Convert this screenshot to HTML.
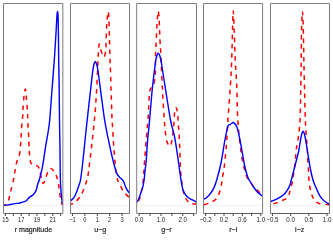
<!DOCTYPE html><html><head><meta charset="utf-8"><style>html,body{margin:0;padding:0;background:#fff;}svg{display:block;will-change:transform;font-family:"Liberation Sans",sans-serif;}</style></head><body>
<svg width="333" height="241" viewBox="0 0 333 241">
<rect width="333" height="241" fill="#fff"/>
<line x1="3.50" y1="205.3" x2="62.85" y2="205.3" stroke="#e8e8e8" stroke-width="0.6"/>
<clipPath id="c1"><rect x="3.50" y="3.50" width="59.35" height="210.00"/></clipPath>
<g clip-path="url(#c1)" fill="none" stroke-linejoin="round">
<path d="M3.80 205.30 C4.17 205.17 5.30 205.05 6.00 204.50 C6.70 203.95 7.50 202.95 8.00 202.00 C8.50 201.05 8.50 200.82 9.00 198.80 C9.50 196.78 10.18 193.37 11.00 189.90 C11.82 186.43 13.23 181.13 13.90 178.00 C14.57 174.87 14.53 173.72 15.00 171.10 C15.47 168.48 15.92 165.25 16.70 162.30 C17.48 159.35 19.03 156.62 19.70 153.40 C20.37 150.18 20.45 146.02 20.70 143.00 C20.95 139.98 21.02 138.30 21.20 135.30 C21.38 132.30 21.55 128.22 21.80 125.00 C22.05 121.78 22.50 118.72 22.70 116.00 C22.90 113.28 22.80 111.82 23.00 108.70 C23.20 105.58 23.62 100.25 23.90 97.30 C24.18 94.35 24.45 92.37 24.70 91.00 C24.95 89.63 25.20 89.02 25.40 89.10 C25.60 89.18 25.75 90.13 25.90 91.50 C26.05 92.87 26.07 94.43 26.30 97.30 C26.53 100.17 27.02 105.28 27.25 108.70 C27.48 112.12 27.56 114.67 27.70 117.80 C27.84 120.93 27.93 124.30 28.10 127.50 C28.27 130.70 28.52 133.25 28.70 137.00 C28.88 140.75 29.00 146.63 29.20 150.00 C29.40 153.37 29.68 155.20 29.90 157.20 C30.12 159.20 30.15 160.82 30.50 162.00 C30.85 163.18 31.50 163.80 32.00 164.30 C32.50 164.80 32.53 164.68 33.50 165.00 C34.47 165.32 36.75 165.20 37.80 166.20 C38.85 167.20 39.13 168.70 39.80 171.00 C40.47 173.30 41.20 177.92 41.80 180.00 C42.40 182.08 42.80 183.67 43.40 183.50 C44.00 183.33 44.67 180.92 45.40 179.00 C46.13 177.08 46.90 173.77 47.80 172.00 C48.70 170.23 49.80 168.57 50.80 168.40 C51.80 168.23 52.80 169.57 53.80 171.00 C54.80 172.43 55.97 174.50 56.80 177.00 C57.63 179.50 58.30 183.17 58.80 186.00 C59.30 188.83 59.37 191.33 59.80 194.00 C60.23 196.67 60.95 200.17 61.40 202.00 C61.85 203.83 62.32 204.50 62.50 205.00" stroke="#ff0000" stroke-width="1.5" stroke-dasharray="4.6 4.6" stroke-dashoffset="1.9"/>
<path d="M3.80 205.40 C4.50 205.32 6.63 205.10 8.00 204.90 C9.37 204.70 10.67 204.45 12.00 204.20 C13.33 203.95 14.83 203.55 16.00 203.40 C17.17 203.25 18.00 203.50 19.00 203.30 C20.00 203.10 20.83 202.58 22.00 202.20 C23.17 201.82 25.02 201.57 26.00 201.00 C26.98 200.43 27.25 199.48 27.90 198.80 C28.55 198.12 29.07 197.53 29.90 196.90 C30.73 196.27 31.90 196.00 32.90 195.00 C33.90 194.00 35.08 192.75 35.90 190.90 C36.72 189.05 37.23 185.72 37.80 183.90 C38.37 182.08 38.80 181.65 39.30 180.00 C39.80 178.35 40.22 176.50 40.80 174.00 C41.38 171.50 42.03 169.37 42.80 165.00 C43.57 160.63 44.53 153.20 45.40 147.80 C46.27 142.40 47.28 137.23 48.00 132.60 C48.72 127.97 49.03 127.10 49.70 120.00 C50.37 112.90 51.23 100.00 52.00 90.00 C52.77 80.00 53.63 69.50 54.30 60.00 C54.97 50.50 55.55 40.50 56.00 33.00 C56.45 25.50 56.75 18.58 57.00 15.00 C57.25 11.42 57.33 11.50 57.50 11.50 C57.67 11.50 57.85 11.42 58.00 15.00 C58.15 18.58 58.28 25.50 58.40 33.00 C58.52 40.50 58.57 50.50 58.70 60.00 C58.83 69.50 59.07 80.00 59.20 90.00 C59.33 100.00 59.37 110.00 59.50 120.00 C59.63 130.00 59.85 140.00 60.00 150.00 C60.15 160.00 60.18 172.50 60.40 180.00 C60.62 187.50 60.93 190.88 61.30 195.00 C61.67 199.12 62.38 203.08 62.60 204.70" stroke="#0000ff" stroke-width="1.42"/>
</g>
<rect x="3.50" y="3.50" width="59.35" height="210.00" fill="none" stroke="#7e7e7e" stroke-width="1" stroke-linejoin="round"/>
<line x1="5.40" y1="213.50" x2="60.70" y2="213.50" stroke="#555" stroke-width="0.9"/>
<line x1="5.40" y1="213.50" x2="5.40" y2="216.00" stroke="#444" stroke-width="1"/>
<line x1="13.30" y1="213.50" x2="13.30" y2="216.00" stroke="#444" stroke-width="1"/>
<line x1="21.20" y1="213.50" x2="21.20" y2="216.00" stroke="#444" stroke-width="1"/>
<line x1="29.10" y1="213.50" x2="29.10" y2="216.00" stroke="#444" stroke-width="1"/>
<line x1="37.00" y1="213.50" x2="37.00" y2="216.00" stroke="#444" stroke-width="1"/>
<line x1="44.90" y1="213.50" x2="44.90" y2="216.00" stroke="#444" stroke-width="1"/>
<line x1="52.80" y1="213.50" x2="52.80" y2="216.00" stroke="#444" stroke-width="1"/>
<line x1="60.70" y1="213.50" x2="60.70" y2="216.00" stroke="#444" stroke-width="1"/>
<text transform="translate(5.40,222.2) scale(0.93,1.14)" font-size="6.2" text-anchor="middle" fill="#222">15</text>
<text transform="translate(21.20,222.2) scale(0.93,1.14)" font-size="6.2" text-anchor="middle" fill="#222">17</text>
<text transform="translate(37.00,222.2) scale(0.93,1.14)" font-size="6.2" text-anchor="middle" fill="#222">19</text>
<text transform="translate(52.80,222.2) scale(0.93,1.14)" font-size="6.2" text-anchor="middle" fill="#222">21</text>
<text transform="translate(33.38,231.8) scale(1,1.08)" font-size="7.1" stroke="#111" stroke-width="0.14" text-anchor="middle" fill="#111">r magnitude</text>
<line x1="70.50" y1="205.3" x2="129.50" y2="205.3" stroke="#e8e8e8" stroke-width="0.6"/>
<clipPath id="c2"><rect x="70.50" y="3.50" width="59.00" height="210.00"/></clipPath>
<g clip-path="url(#c2)" fill="none" stroke-linejoin="round">
<path d="M70.40 204.50 C71.20 204.12 73.57 203.55 75.20 202.20 C76.83 200.85 78.73 198.63 80.20 196.40 C81.67 194.17 82.95 191.32 84.00 188.80 C85.05 186.28 85.87 183.30 86.50 181.30 C87.13 179.30 87.28 179.85 87.80 176.80 C88.32 173.75 88.85 169.10 89.60 163.00 C90.35 156.90 91.50 147.37 92.30 140.20 C93.10 133.03 93.90 125.03 94.40 120.00 C94.90 114.97 95.03 113.33 95.30 110.00 C95.57 106.67 95.78 103.28 96.00 100.00 C96.22 96.72 96.35 94.97 96.60 90.30 C96.85 85.63 97.27 77.05 97.50 72.00 C97.73 66.95 97.85 63.17 98.00 60.00 C98.15 56.83 98.22 55.63 98.40 53.00 C98.58 50.37 98.83 45.20 99.10 44.20 C99.37 43.20 99.65 45.87 100.00 47.00 C100.35 48.13 100.78 49.75 101.20 51.00 C101.62 52.25 102.00 53.50 102.50 54.50 C103.00 55.50 103.73 57.25 104.20 57.00 C104.67 56.75 105.00 54.92 105.30 53.00 C105.60 51.08 105.78 49.68 106.00 45.50 C106.22 41.32 106.37 32.65 106.60 27.90 C106.83 23.15 107.12 19.72 107.40 17.00 C107.68 14.28 108.05 11.10 108.30 11.60 C108.55 12.10 108.73 16.48 108.90 20.00 C109.07 23.52 109.20 29.37 109.30 32.70 C109.40 36.03 109.42 36.78 109.50 40.00 C109.58 43.22 109.70 48.38 109.80 52.00 C109.90 55.62 110.00 58.87 110.10 61.70 C110.20 64.53 110.27 65.12 110.40 69.00 C110.53 72.88 110.75 80.53 110.90 85.00 C111.05 89.47 111.13 90.58 111.30 95.80 C111.47 101.02 111.73 111.77 111.90 116.30 C112.07 120.83 112.12 119.88 112.30 123.00 C112.48 126.12 112.77 131.17 113.00 135.00 C113.23 138.83 113.27 140.50 113.70 146.00 C114.13 151.50 114.95 162.33 115.60 168.00 C116.25 173.67 116.98 177.58 117.60 180.00 C118.22 182.42 118.58 181.03 119.30 182.50 C120.02 183.97 120.83 186.90 121.90 188.80 C122.97 190.70 124.45 192.42 125.70 193.90 C126.95 195.38 128.78 197.07 129.40 197.70" stroke="#ff0000" stroke-width="1.5" stroke-dasharray="4.6 4.6" stroke-dashoffset="1.8"/>
<path d="M70.40 201.00 C70.98 200.45 72.90 199.10 73.90 197.70 C74.90 196.30 75.55 194.72 76.40 192.60 C77.25 190.48 78.32 187.10 79.00 185.00 C79.68 182.90 79.88 183.67 80.50 180.00 C81.12 176.33 81.90 170.05 82.70 163.00 C83.50 155.95 84.55 144.87 85.30 137.70 C86.05 130.53 86.28 128.32 87.20 120.00 C88.12 111.68 89.85 96.13 90.80 87.80 C91.75 79.47 92.33 74.05 92.90 70.00 C93.47 65.95 93.80 64.93 94.20 63.50 C94.60 62.07 94.93 61.40 95.30 61.40 C95.67 61.40 95.97 62.07 96.40 63.50 C96.83 64.93 97.15 65.12 97.90 70.00 C98.65 74.88 99.78 84.47 100.90 92.80 C102.02 101.13 103.42 112.52 104.60 120.00 C105.78 127.48 106.80 131.80 108.00 137.70 C109.20 143.60 110.58 150.18 111.80 155.40 C113.02 160.62 114.43 165.93 115.30 169.00 C116.17 172.07 116.23 172.37 117.00 173.80 C117.77 175.23 118.98 176.57 119.90 177.60 C120.82 178.63 121.85 179.30 122.50 180.00 C123.15 180.70 123.27 180.60 123.80 181.80 C124.33 183.00 125.08 185.75 125.70 187.20 C126.32 188.65 126.83 189.50 127.50 190.50 C128.17 191.50 129.33 192.75 129.70 193.20" stroke="#0000ff" stroke-width="1.42"/>
</g>
<rect x="70.50" y="3.50" width="59.00" height="210.00" fill="none" stroke="#7e7e7e" stroke-width="1" stroke-linejoin="round"/>
<line x1="72.50" y1="213.50" x2="122.10" y2="213.50" stroke="#555" stroke-width="0.9"/>
<line x1="72.50" y1="213.50" x2="72.50" y2="216.00" stroke="#444" stroke-width="1"/>
<line x1="84.90" y1="213.50" x2="84.90" y2="216.00" stroke="#444" stroke-width="1"/>
<line x1="97.30" y1="213.50" x2="97.30" y2="216.00" stroke="#444" stroke-width="1"/>
<line x1="109.70" y1="213.50" x2="109.70" y2="216.00" stroke="#444" stroke-width="1"/>
<line x1="122.10" y1="213.50" x2="122.10" y2="216.00" stroke="#444" stroke-width="1"/>
<text transform="translate(72.50,222.2) scale(0.93,1.14)" font-size="6.2" text-anchor="middle" fill="#222">−1</text>
<text transform="translate(84.90,222.2) scale(0.93,1.14)" font-size="6.2" text-anchor="middle" fill="#222">0</text>
<text transform="translate(97.30,222.2) scale(0.93,1.14)" font-size="6.2" text-anchor="middle" fill="#222">1</text>
<text transform="translate(109.70,222.2) scale(0.93,1.14)" font-size="6.2" text-anchor="middle" fill="#222">2</text>
<text transform="translate(122.10,222.2) scale(0.93,1.14)" font-size="6.2" text-anchor="middle" fill="#222">3</text>
<text transform="translate(100.20,231.8) scale(1,1.08)" font-size="7.1" stroke="#111" stroke-width="0.14" text-anchor="middle" fill="#111">u−g</text>
<line x1="136.70" y1="205.3" x2="196.50" y2="205.3" stroke="#e8e8e8" stroke-width="0.6"/>
<clipPath id="c3"><rect x="136.70" y="3.50" width="59.80" height="210.00"/></clipPath>
<g clip-path="url(#c3)" fill="none" stroke-linejoin="round">
<path d="M136.90 203.00 C137.33 202.33 138.75 200.93 139.50 199.00 C140.25 197.07 140.78 194.57 141.40 191.40 C142.02 188.23 142.63 185.58 143.20 180.00 C143.77 174.42 144.20 165.80 144.80 157.90 C145.40 150.00 146.27 138.92 146.80 132.60 C147.33 126.28 147.68 124.43 148.00 120.00 C148.32 115.57 148.47 110.17 148.70 106.00 C148.93 101.83 149.15 97.75 149.40 95.00 C149.65 92.25 149.87 90.72 150.20 89.50 C150.53 88.28 150.88 88.28 151.40 87.70 C151.92 87.12 152.83 86.90 153.30 86.00 C153.77 85.10 153.95 83.52 154.20 82.30 C154.45 81.08 154.60 80.12 154.80 78.70 C155.00 77.28 155.30 76.42 155.40 73.80 C155.50 71.18 155.38 65.97 155.40 63.00 C155.42 60.03 155.42 58.67 155.50 56.00 C155.58 53.33 155.75 50.17 155.90 47.00 C156.05 43.83 156.22 40.67 156.40 37.00 C156.58 33.33 156.80 28.50 157.00 25.00 C157.20 21.50 157.38 18.33 157.60 16.00 C157.82 13.67 158.08 11.00 158.30 11.00 C158.52 11.00 158.72 13.67 158.90 16.00 C159.08 18.33 159.22 20.83 159.40 25.00 C159.58 29.17 159.80 36.83 160.00 41.00 C160.20 45.17 160.42 46.83 160.60 50.00 C160.78 53.17 160.98 57.23 161.10 60.00 C161.22 62.77 161.20 64.10 161.30 66.60 C161.40 69.10 161.57 72.10 161.70 75.00 C161.83 77.90 161.97 81.67 162.10 84.00 C162.23 86.33 162.37 86.67 162.50 89.00 C162.63 91.33 162.73 94.88 162.90 98.00 C163.07 101.12 163.30 104.58 163.50 107.70 C163.70 110.82 163.95 114.28 164.10 116.70 C164.25 119.12 164.27 120.48 164.40 122.20 C164.53 123.92 164.72 125.20 164.90 127.00 C165.08 128.80 165.20 130.68 165.50 133.00 C165.80 135.32 166.30 139.08 166.70 140.90 C167.10 142.72 167.48 143.17 167.90 143.90 C168.32 144.63 168.77 144.95 169.20 145.30 C169.63 145.65 170.12 146.43 170.50 146.00 C170.88 145.57 171.17 144.25 171.50 142.70 C171.83 141.15 172.20 138.82 172.50 136.70 C172.80 134.58 173.07 132.02 173.30 130.00 C173.53 127.98 173.75 126.60 173.90 124.60 C174.05 122.60 174.08 119.93 174.20 118.00 C174.32 116.07 174.42 114.50 174.60 113.00 C174.78 111.50 175.05 109.88 175.30 109.00 C175.55 108.12 175.83 107.62 176.10 107.70 C176.37 107.78 176.65 108.40 176.90 109.50 C177.15 110.60 177.42 112.80 177.60 114.30 C177.78 115.80 177.87 116.55 178.00 118.50 C178.13 120.45 178.22 123.58 178.40 126.00 C178.58 128.42 178.95 130.67 179.10 133.00 C179.25 135.33 179.20 137.68 179.30 140.00 C179.40 142.32 179.48 141.82 179.70 146.90 C179.92 151.98 180.30 164.98 180.60 170.50 C180.90 176.02 181.00 176.32 181.50 180.00 C182.00 183.68 182.70 189.23 183.60 192.60 C184.50 195.97 185.72 198.38 186.90 200.20 C188.08 202.02 189.12 202.87 190.70 203.50 C192.28 204.13 195.45 203.92 196.40 204.00" stroke="#ff0000" stroke-width="1.5" stroke-dasharray="4.6 4.6" stroke-dashoffset="-2.5"/>
<path d="M136.70 202.50 C137.07 201.78 138.22 199.78 138.90 198.20 C139.58 196.62 140.17 194.82 140.80 193.00 C141.43 191.18 142.15 189.47 142.70 187.30 C143.25 185.13 143.73 182.55 144.10 180.00 C144.47 177.45 144.55 175.17 144.90 172.00 C145.25 168.83 145.87 164.67 146.20 161.00 C146.53 157.33 146.63 153.83 146.90 150.00 C147.17 146.17 147.47 141.73 147.80 138.00 C148.13 134.27 148.60 130.60 148.90 127.60 C149.20 124.60 149.05 126.27 149.60 120.00 C150.15 113.73 151.23 99.50 152.20 90.00 C153.17 80.50 154.70 68.42 155.40 63.00 C156.10 57.58 156.08 58.92 156.40 57.50 C156.72 56.08 156.98 55.20 157.30 54.50 C157.62 53.80 157.97 53.30 158.30 53.30 C158.63 53.30 158.97 53.80 159.30 54.50 C159.63 55.20 159.95 56.08 160.30 57.50 C160.65 58.92 160.50 57.53 161.40 63.00 C162.30 68.47 164.18 80.80 165.70 90.30 C167.22 99.80 169.08 112.55 170.50 120.00 C171.92 127.45 173.15 129.95 174.20 135.00 C175.25 140.05 175.95 144.80 176.80 150.30 C177.65 155.80 178.60 163.05 179.30 168.00 C180.00 172.95 180.38 176.33 181.00 180.00 C181.62 183.67 182.02 187.27 183.00 190.00 C183.98 192.73 185.42 194.78 186.90 196.40 C188.38 198.02 190.32 198.77 191.90 199.70 C193.48 200.63 195.65 201.62 196.40 202.00" stroke="#0000ff" stroke-width="1.42"/>
</g>
<rect x="136.70" y="3.50" width="59.80" height="210.00" fill="none" stroke="#7e7e7e" stroke-width="1" stroke-linejoin="round"/>
<line x1="139.15" y1="213.50" x2="193.65" y2="213.50" stroke="#555" stroke-width="0.9"/>
<line x1="139.15" y1="213.50" x2="139.15" y2="216.00" stroke="#444" stroke-width="1"/>
<line x1="150.05" y1="213.50" x2="150.05" y2="216.00" stroke="#444" stroke-width="1"/>
<line x1="160.95" y1="213.50" x2="160.95" y2="216.00" stroke="#444" stroke-width="1"/>
<line x1="171.85" y1="213.50" x2="171.85" y2="216.00" stroke="#444" stroke-width="1"/>
<line x1="182.75" y1="213.50" x2="182.75" y2="216.00" stroke="#444" stroke-width="1"/>
<line x1="193.65" y1="213.50" x2="193.65" y2="216.00" stroke="#444" stroke-width="1"/>
<text transform="translate(139.15,222.2) scale(1.00,1.14)" font-size="6.2" text-anchor="middle" fill="#222">0.0</text>
<text transform="translate(160.95,222.2) scale(1.00,1.14)" font-size="6.2" text-anchor="middle" fill="#222">1.0</text>
<text transform="translate(182.75,222.2) scale(1.00,1.14)" font-size="6.2" text-anchor="middle" fill="#222">2.0</text>
<text transform="translate(166.50,231.8) scale(1,1.08)" font-size="7.1" stroke="#111" stroke-width="0.14" text-anchor="middle" fill="#111">g−r</text>
<line x1="203.50" y1="205.3" x2="262.60" y2="205.3" stroke="#e8e8e8" stroke-width="0.6"/>
<clipPath id="c4"><rect x="203.50" y="3.50" width="59.10" height="210.00"/></clipPath>
<g clip-path="url(#c4)" fill="none" stroke-linejoin="round">
<path d="M204.00 204.70 C204.82 204.45 207.02 204.03 208.90 203.20 C210.78 202.37 213.62 201.25 215.30 199.70 C216.98 198.15 217.95 196.55 219.00 193.90 C220.05 191.25 221.05 186.45 221.60 183.80 C222.15 181.15 221.88 180.63 222.30 178.00 C222.72 175.37 223.38 173.88 224.10 168.00 C224.82 162.12 225.97 150.70 226.60 142.70 C227.23 134.70 227.27 129.57 227.90 120.00 C228.53 110.43 229.77 95.30 230.40 85.30 C231.03 75.30 231.35 69.22 231.70 60.00 C232.05 50.78 232.25 38.18 232.50 30.00 C232.75 21.82 232.92 10.90 233.20 10.90 C233.48 10.90 233.87 21.82 234.20 30.00 C234.53 38.18 234.78 50.78 235.20 60.00 C235.62 69.22 236.27 75.30 236.70 85.30 C237.13 95.30 237.17 109.58 237.80 120.00 C238.43 130.42 239.63 140.63 240.50 147.80 C241.37 154.97 241.95 158.17 243.00 163.00 C244.05 167.83 245.67 173.83 246.80 176.80 C247.93 179.77 248.75 179.27 249.80 180.80 C250.85 182.33 251.70 184.30 253.10 186.00 C254.50 187.70 256.60 189.38 258.20 191.00 C259.80 192.62 261.95 194.92 262.70 195.70" stroke="#ff0000" stroke-width="1.5" stroke-dasharray="4.6 4.6" stroke-dashoffset="0.0"/>
<path d="M203.90 199.00 C204.32 198.78 205.35 198.55 206.40 197.70 C207.45 196.85 208.93 195.58 210.20 193.90 C211.47 192.22 212.92 189.92 214.00 187.60 C215.08 185.28 215.53 184.10 216.70 180.00 C217.87 175.90 219.63 169.63 221.00 163.00 C222.37 156.37 223.75 146.32 224.90 140.20 C226.05 134.08 226.98 128.92 227.90 126.30 C228.82 123.68 229.48 125.13 230.40 124.50 C231.32 123.87 232.28 121.98 233.40 122.50 C234.52 123.02 235.83 123.80 237.10 127.60 C238.37 131.40 239.75 138.98 241.00 145.30 C242.25 151.62 243.50 160.25 244.60 165.50 C245.70 170.75 246.73 174.22 247.60 176.80 C248.47 179.38 248.88 179.42 249.80 181.00 C250.72 182.58 251.92 184.57 253.10 186.30 C254.28 188.03 255.30 189.72 256.90 191.40 C258.50 193.08 261.73 195.57 262.70 196.40" stroke="#0000ff" stroke-width="1.42"/>
</g>
<rect x="203.50" y="3.50" width="59.10" height="210.00" fill="none" stroke="#7e7e7e" stroke-width="1" stroke-linejoin="round"/>
<line x1="205.60" y1="213.50" x2="260.80" y2="213.50" stroke="#555" stroke-width="0.9"/>
<line x1="205.60" y1="213.50" x2="205.60" y2="216.00" stroke="#444" stroke-width="1"/>
<line x1="214.80" y1="213.50" x2="214.80" y2="216.00" stroke="#444" stroke-width="1"/>
<line x1="224.00" y1="213.50" x2="224.00" y2="216.00" stroke="#444" stroke-width="1"/>
<line x1="233.20" y1="213.50" x2="233.20" y2="216.00" stroke="#444" stroke-width="1"/>
<line x1="242.40" y1="213.50" x2="242.40" y2="216.00" stroke="#444" stroke-width="1"/>
<line x1="251.60" y1="213.50" x2="251.60" y2="216.00" stroke="#444" stroke-width="1"/>
<line x1="260.80" y1="213.50" x2="260.80" y2="216.00" stroke="#444" stroke-width="1"/>
<text transform="translate(205.60,222.2) scale(1.00,1.14)" font-size="6.2" text-anchor="middle" fill="#222">−0.2</text>
<text transform="translate(224.00,222.2) scale(1.00,1.14)" font-size="6.2" text-anchor="middle" fill="#222">0.2</text>
<text transform="translate(242.40,222.2) scale(1.00,1.14)" font-size="6.2" text-anchor="middle" fill="#222">0.6</text>
<text transform="translate(260.80,222.2) scale(1.00,1.14)" font-size="6.2" text-anchor="middle" fill="#222">1.0</text>
<text transform="translate(233.25,231.8) scale(1,1.08)" font-size="7.1" stroke="#111" stroke-width="0.14" text-anchor="middle" fill="#111">r−i</text>
<line x1="270.50" y1="205.3" x2="329.50" y2="205.3" stroke="#e8e8e8" stroke-width="0.6"/>
<clipPath id="c5"><rect x="270.50" y="3.50" width="59.00" height="210.00"/></clipPath>
<g clip-path="url(#c5)" fill="none" stroke-linejoin="round">
<path d="M270.50 204.30 C271.37 204.10 273.87 203.68 275.70 203.10 C277.53 202.52 279.73 201.55 281.50 200.80 C283.27 200.05 285.18 199.35 286.30 198.60 C287.42 197.85 287.65 197.30 288.20 196.30 C288.75 195.30 288.97 194.73 289.60 192.60 C290.23 190.47 291.43 185.98 292.00 183.50 C292.57 181.02 292.58 180.28 293.00 177.70 C293.42 175.12 294.08 171.28 294.50 168.00 C294.92 164.72 295.22 161.00 295.50 158.00 C295.78 155.00 295.95 152.12 296.20 150.00 C296.45 147.88 296.72 146.97 297.00 145.30 C297.28 143.63 297.62 141.72 297.90 140.00 C298.18 138.28 298.47 136.83 298.70 135.00 C298.93 133.17 299.08 131.33 299.30 129.00 C299.52 126.67 299.82 124.67 300.00 121.00 C300.18 117.33 300.28 111.67 300.40 107.00 C300.52 102.33 300.60 98.33 300.70 93.00 C300.80 87.67 300.92 80.50 301.00 75.00 C301.08 69.50 301.12 66.83 301.20 60.00 C301.28 53.17 301.38 40.67 301.50 34.00 C301.62 27.33 301.73 23.77 301.90 20.00 C302.07 16.23 302.32 11.40 302.50 11.40 C302.68 11.40 302.85 16.23 303.00 20.00 C303.15 23.77 303.27 28.17 303.40 34.00 C303.53 39.83 303.70 49.37 303.80 55.00 C303.90 60.63 303.88 62.47 304.00 67.80 C304.12 73.13 304.38 82.37 304.50 87.00 C304.62 91.63 304.58 90.77 304.70 95.60 C304.82 100.43 305.05 111.10 305.20 116.00 C305.35 120.90 305.43 121.83 305.60 125.00 C305.77 128.17 305.97 131.67 306.20 135.00 C306.43 138.33 306.63 139.17 307.00 145.00 C307.37 150.83 308.02 163.58 308.40 170.00 C308.78 176.42 308.82 179.65 309.30 183.50 C309.78 187.35 310.48 190.38 311.30 193.10 C312.12 195.82 312.92 198.07 314.20 199.80 C315.48 201.53 316.77 202.70 319.00 203.50 C321.23 204.30 325.85 204.40 327.60 204.60 C329.35 204.80 329.18 204.68 329.50 204.70" stroke="#ff0000" stroke-width="1.5" stroke-dasharray="4.6 4.6" stroke-dashoffset="-3.0"/>
<path d="M270.50 201.50 C271.13 201.28 272.83 200.83 274.30 200.20 C275.77 199.57 277.62 198.75 279.30 197.70 C280.98 196.65 282.93 195.38 284.40 193.90 C285.87 192.42 287.08 190.48 288.10 188.80 C289.12 187.12 289.97 185.27 290.50 183.80 C291.03 182.33 290.43 183.47 291.30 180.00 C292.17 176.53 294.43 168.00 295.70 163.00 C296.97 158.00 298.07 154.00 298.90 150.00 C299.73 146.00 300.20 141.75 300.70 139.00 C301.20 136.25 301.50 134.80 301.90 133.50 C302.30 132.20 302.70 131.20 303.10 131.20 C303.50 131.20 303.90 132.20 304.30 133.50 C304.70 134.80 305.00 136.25 305.50 139.00 C306.00 141.75 306.52 145.17 307.30 150.00 C308.08 154.83 309.25 163.00 310.20 168.00 C311.15 173.00 312.03 176.73 313.00 180.00 C313.97 183.27 314.80 184.87 316.00 187.60 C317.20 190.33 318.73 194.08 320.20 196.40 C321.67 198.72 323.28 200.23 324.80 201.50 C326.32 202.77 328.55 203.58 329.30 204.00" stroke="#0000ff" stroke-width="1.42"/>
</g>
<rect x="270.50" y="3.50" width="59.00" height="210.00" fill="none" stroke="#7e7e7e" stroke-width="1" stroke-linejoin="round"/>
<line x1="272.45" y1="213.50" x2="327.05" y2="213.50" stroke="#555" stroke-width="0.9"/>
<line x1="272.45" y1="213.50" x2="272.45" y2="216.00" stroke="#444" stroke-width="1"/>
<line x1="290.65" y1="213.50" x2="290.65" y2="216.00" stroke="#444" stroke-width="1"/>
<line x1="308.85" y1="213.50" x2="308.85" y2="216.00" stroke="#444" stroke-width="1"/>
<line x1="327.05" y1="213.50" x2="327.05" y2="216.00" stroke="#444" stroke-width="1"/>
<text transform="translate(272.45,222.2) scale(1.00,1.14)" font-size="6.2" text-anchor="middle" fill="#222">−0.5</text>
<text transform="translate(290.65,222.2) scale(1.00,1.14)" font-size="6.2" text-anchor="middle" fill="#222">0.0</text>
<text transform="translate(308.85,222.2) scale(1.00,1.14)" font-size="6.2" text-anchor="middle" fill="#222">0.5</text>
<text transform="translate(327.05,222.2) scale(1.00,1.14)" font-size="6.2" text-anchor="middle" fill="#222">1.0</text>
<text transform="translate(299.70,231.8) scale(1,1.08)" font-size="7.1" stroke="#111" stroke-width="0.14" text-anchor="middle" fill="#111">i−z</text>
</svg></body></html>
